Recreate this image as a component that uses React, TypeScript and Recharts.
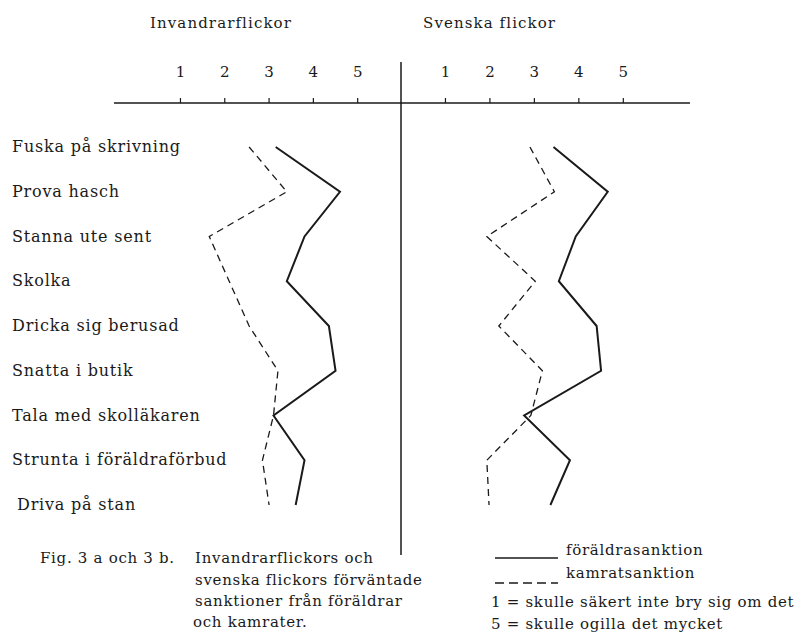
import React from 'react';
import { LineChart, Line, XAxis, YAxis } from 'recharts';

const activities = [
  'Fuska på skrivning',
  'Prova hasch',
  'Stanna ute sent',
  'Skolka',
  'Dricka sig berusad',
  'Snatta i butik',
  'Tala med skolläkaren',
  'Strunta i föräldraförbud',
  'Driva på stan',
];

// Invandrarflickor
const invParents = [3.15, 4.6, 3.8, 3.4, 4.35, 4.5, 3.1, 3.8, 3.6];
const invPeers = [2.55, 3.4, 1.65, 2.1, 2.55, 3.2, 3.1, 2.85, 3.0];

// Svenska flickor
const svParents = [3.43, 4.65, 3.93, 3.55, 4.4, 4.5, 2.77, 3.8, 3.36];
const svPeers = [2.9, 3.45, 1.93, 3.02, 2.2, 3.18, 2.92, 1.93, 1.98];

const scaleTicks = [1, 2, 3, 4, 5];

const FONT = '"DejaVu Serif", serif';
const INK = '#1a1a1a';

const invData = activities.map((act, i) => ({ act, parents: invParents[i], peers: invPeers[i] }));
const svData = activities.map((act, i) => ({ act, parents: svParents[i], peers: svPeers[i] }));

const CatTick = (props: any) => {
  const { y, payload } = props;
  const indent = payload.value === 'Driva på stan' ? 17 : 12;
  return (
    <text
      x={indent}
      y={y}
      dy={5}
      fontFamily={FONT}
      fontSize={16}
      letterSpacing={0.8}
      fill={INK}
      textAnchor="start"
    >
      {payload.value}
    </text>
  );
};

const axisProps = {
  type: 'number' as const,
  orientation: 'top' as const,
  height: 30,
  ticks: scaleTicks,
  tickSize: 5,
  tickMargin: 21,
  axisLine: { stroke: INK, strokeWidth: 1.5 },
  tickLine: { stroke: INK, strokeWidth: 1.2 },
  tick: { fill: INK, fontFamily: FONT, fontSize: 15 },
  interval: 0 as const,
};

const yPad = { top: 44, bottom: 0 };

const Panel = ({ data, left, width, domain, showLabels }: any) => (
  <div style={{ position: 'absolute', left, top: 0 }}>
    <LineChart
      width={width}
      height={644}
      data={data}
      layout="vertical"
      margin={{ top: 73, right: 0, bottom: 139, left: 0 }}
    >
      <XAxis {...axisProps} domain={domain} allowDataOverflow />
      <YAxis
        type="category"
        dataKey="act"
        hide={!showLabels}
        width={114}
        axisLine={false}
        tickLine={false}
        tick={<CatTick />}
        interval={0}
        padding={yPad}
      />
      <Line
        dataKey="parents"
        stroke={INK}
        strokeWidth={2}
        dot={false}
        isAnimationActive={false}
      />
      <Line
        dataKey="peers"
        stroke={INK}
        strokeWidth={1.3}
        strokeDasharray="7 5"
        dot={false}
        isAnimationActive={false}
      />
    </LineChart>
  </div>
);

export default function App() {
  const txt = { fontFamily: FONT, fontSize: 15, fill: INK, letterSpacing: 0.7 };
  return (
    <div style={{ position: 'absolute', left: 0, top: 0, width: 804, height: 644, background: '#fff' }}>
      <Panel data={invData} left={0} width={402} domain={[-0.5, 6]} showLabels />
      <Panel data={svData} left={401} width={289} domain={[0, 6.5]} showLabels={false} />
      <svg
        width={804}
        height={644}
        style={{ position: 'absolute', left: 0, top: 0, pointerEvents: 'none' }}
      >
        <line x1={401} y1={62} x2={401} y2={555} stroke={INK} strokeWidth={1.5} />
        <text x={150} y={28} {...txt} letterSpacing={1.1}>Invandrarflickor</text>
        <text x={423} y={28} {...txt} letterSpacing={1.1}>Svenska flickor</text>

        <text x={40} y={563} {...txt}>Fig. 3 a och 3 b.</text>
        <text x={195} y={563} {...txt}>Invandrarflickors och</text>
        <text x={195} y={585} {...txt}>svenska flickors förväntade</text>
        <text x={195} y={606} {...txt}>sanktioner från föräldrar</text>
        <text x={193} y={627} {...txt}>och kamrater.</text>

        <line x1={495} y1={558} x2={558} y2={558} stroke={INK} strokeWidth={1.5} />
        <text x={566} y={555} {...txt}>föräldrasanktion</text>
        <line x1={495} y1={583} x2={558} y2={583} stroke={INK} strokeWidth={1.3} strokeDasharray="9 5" />
        <text x={566} y={578} {...txt}>kamratsanktion</text>
        <text x={491} y={607} {...txt}>1 = skulle säkert inte bry sig om det</text>
        <text x={491} y={629} {...txt}>5 = skulle ogilla det mycket</text>
      </svg>
    </div>
  );
}
